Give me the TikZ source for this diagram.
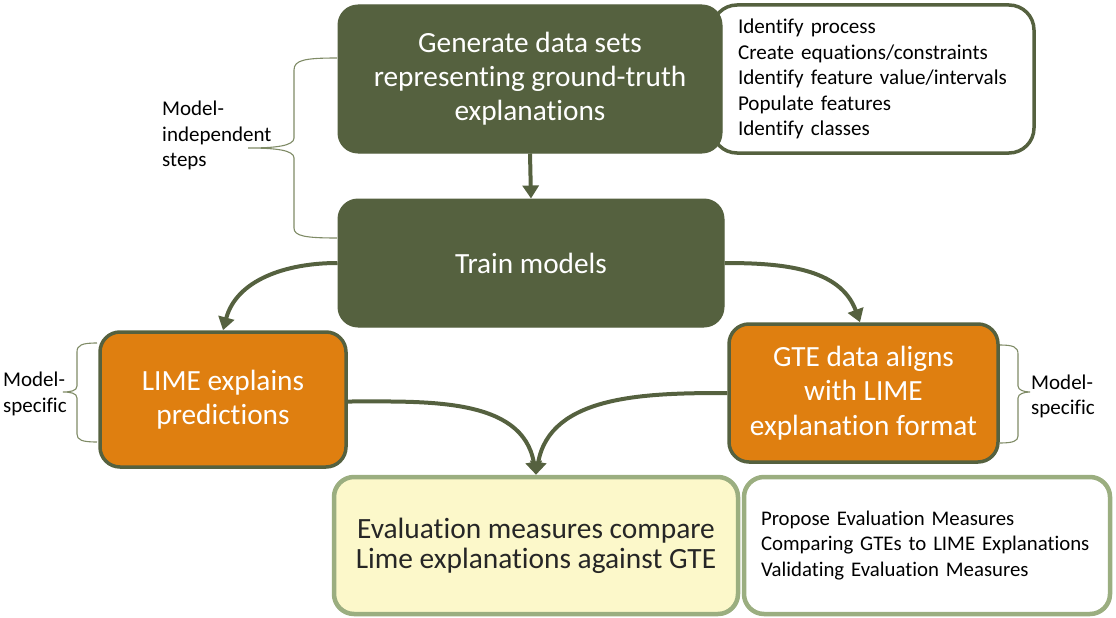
\documentclass[tikz,border=0pt]{standalone}
\usepackage{fontspec}
\setmainfont{Carlito}[Ligatures=CommonOff]
\usetikzlibrary{arrows.meta}
\definecolor{olivec}{HTML}{55613F}
\definecolor{orangec}{HTML}{DF7F10}
\definecolor{yellowc}{HTML}{FCF8CA}
\definecolor{lgreenc}{HTML}{9BAE80}
\definecolor{bracec}{HTML}{7F8B66}
\tikzset{
  x=1pt, y=1pt,
  darkbox/.style={rectangle, rounded corners=20pt, fill=olivec, draw=olivec, line width=1pt, text=white, align=center, font=\fontsize{29.3}{34}\selectfont},
  orangebox/.style={rectangle, rounded corners=20pt, fill=orangec, draw=olivec, line width=3.5pt, text=white, align=center, font=\fontsize{29.3}{34.5}\selectfont},
  listbox/.style={rectangle, rounded corners=25pt, fill=white, draw=olivec, line width=3.5pt, align=left, font=\fontsize{21.1}{25.5}\selectfont},
  evalbox/.style={rectangle, rounded corners=20pt, fill=yellowc, draw=lgreenc, line width=4.5pt, text=black!85, align=center, font=\fontsize{29.4}{30}\selectfont},
  outbox/.style={rectangle, rounded corners=20pt, fill=white, draw=lgreenc, line width=4.5pt, align=left, font=\fontsize{20.8}{25.5}\selectfont},
  flow/.style={draw=olivec, line width=4pt, -{Triangle[length=13pt,width=16pt]}},
  bracket/.style={draw=bracec, line width=1.1pt},
  label/.style={anchor=west, align=left, inner sep=0pt, font=\fontsize{21}{25.7}\selectfont}
}
\begin{document}
\begin{tikzpicture}
\useasboundingbox (0,0) rectangle (1116,-618);
% list box behind the top box
\node[listbox, minimum width=322pt, minimum height=148pt, text width=270pt] (list) at (873,-79)
  {Identify process\\Create equations/constraints\\Identify feature value/intervals\\Populate features\\Identify classes};
\node[darkbox, minimum width=384pt, minimum height=148pt] (gen) at (530,-79)
  {Generate data sets\\representing ground-truth\\explanations};
\node[darkbox, minimum width=386pt, minimum height=128pt] (train) at (531,-263) {Train models};
\node[orangebox, minimum width=246pt, minimum height=135pt] (lime) at (223,-399.5) {LIME explains\\predictions};
\node[orangebox, minimum width=269pt, minimum height=138pt] (gte) at (863.5,-393) {GTE data aligns\\with LIME\\explanation format};
\node[evalbox, minimum width=404pt, minimum height=137pt] (eval) at (536,-545.5) {Evaluation measures compare\\Lime explanations against GTE};
\node[outbox, minimum width=366pt, minimum height=137pt, text width=332pt] (out) at (927,-545.5)
  {Propose Evaluation Measures\\Comparing GTEs to LIME Explanations\\Validating Evaluation Measures};

% arrows
\draw[flow] (gen.south) -- (train.north);
\draw[flow] (train.west) to[out=180, in=75] (lime.north);
\draw[flow] (train.east) to[out=0, in=110] (gte.north -| 860,0);
\draw[flow] ([yshift=-2pt]lime.east) to[out=0, in=100] (eval.north);
\draw[flow] (gte.west) to[out=180, in=80] (eval.north);

% braces
\draw[bracket] (337,-58) .. controls (305,-58) and (294,-60) .. (294,-70) -- (294,-138)
  .. controls (294,-146) and (275,-148) .. (248,-148)
  .. controls (275,-148) and (294,-150) .. (294,-158) -- (294,-228)
  .. controls (294,-236) and (305,-238) .. (337,-238);
\node[label] (lbl1) at (162,-135.5) {Model-\\independent\\steps};

\draw[bracket] (97,-343) .. controls (82,-343) and (77,-345) .. (77,-352) -- (77,-386)
  .. controls (77,-391) and (70,-392) .. (63,-392)
  .. controls (70,-392) and (77,-393) .. (77,-398) -- (77,-434)
  .. controls (77,-440) and (82,-442) .. (97,-442);
\node[label] (lbl2) at (3,-394) {Model-\\specific};

\draw[bracket] (1000,-345) .. controls (1013,-345) and (1018,-347) .. (1018,-354) -- (1018,-386)
  .. controls (1018,-390) and (1024,-392) .. (1030,-392)
  .. controls (1024,-392) and (1018,-394) .. (1018,-398) -- (1018,-436)
  .. controls (1018,-441) and (1013,-443) .. (1000,-443);
\node[label] (lbl3) at (1031,-396.5) {Model-\\specific};
\end{tikzpicture}
\end{document}
